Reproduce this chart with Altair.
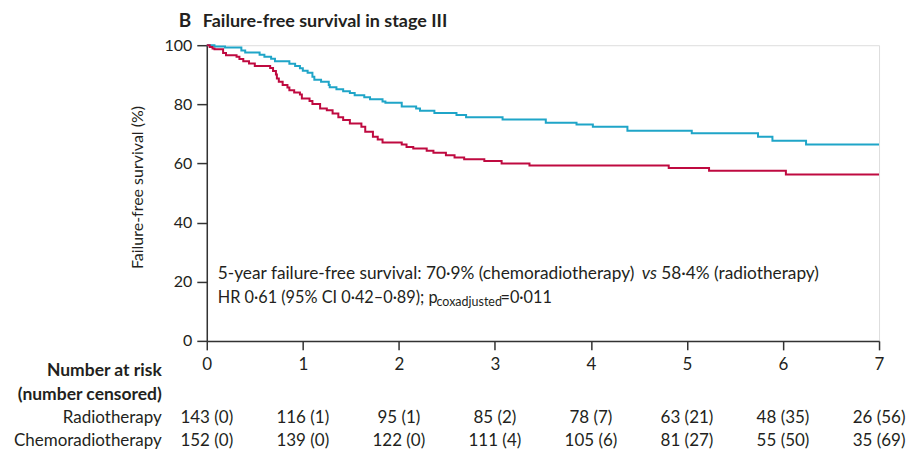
import altair as alt
import pandas as pd

# ---- data ----
chemo_t = [0, 0.08, 0.19, 0.36, 0.40, 0.55, 0.60, 0.67, 0.71, 0.86, 0.92, 0.97, 1.00, 1.05, 1.10, 1.12, 1.19, 1.27, 1.28, 1.35,
           1.42, 1.49, 1.54, 1.64, 1.70, 1.83, 1.86, 2.03, 2.18, 2.22, 2.37, 2.60, 2.70, 3.08, 3.53, 3.85, 4.02, 4.38, 5.05, 5.74,
           5.89, 6.24, 7.0]
chemo_s = [100, 99.6, 99.2, 98.2, 97.5, 96.8, 96.1, 95.4, 94.6, 93.7, 93.0, 92.2, 91.4, 90.7, 89.3, 88.3, 87.6, 86.5, 85.8, 85.1,
           84.4, 83.8, 83.1, 82.4, 81.7, 81.0, 80.5, 79.3, 78.6, 77.8, 77.1, 76.4, 75.6, 74.9, 73.8, 73.2, 72.4, 71.1, 70.2, 69.0,
           67.7, 66.4, 66.4]
radio_t = [0, 0.03, 0.06, 0.08, 0.17, 0.20, 0.31, 0.34, 0.38, 0.44, 0.50, 0.66, 0.69, 0.72, 0.73, 0.75, 0.79, 0.84, 0.86, 0.91,
           0.97, 0.99, 1.07, 1.10, 1.18, 1.25, 1.31, 1.37, 1.42, 1.49, 1.61, 1.65, 1.73, 1.78, 1.83, 2.03, 2.08, 2.15, 2.29, 2.36,
           2.49, 2.58, 2.68, 2.89, 3.07, 3.36, 4.81, 5.23, 6.03, 7.0]
radio_s = [100, 99.4, 98.9, 98.6, 97.4, 96.6, 96.1, 95.3, 94.6, 93.8, 93.0, 92.3, 91.3, 90.1, 88.7, 87.6, 86.5, 85.7, 84.8, 84.0,
           83.3, 82.0, 81.1, 80.1, 78.6, 78.0, 76.9, 75.6, 74.7, 73.5, 72.4, 70.7, 69.0, 68.1, 67.1, 66.4, 65.6, 65.1, 64.3, 63.6,
           62.8, 62.0, 61.4, 60.8, 60.0, 59.3, 58.5, 57.5, 56.3, 56.3]

risk_times = [0, 1, 2, 3, 4, 5, 6, 7]
risk_radio = ["143 (0)", "116 (1)", "95 (1)", "85 (2)", "78 (7)", "63 (21)", "48 (35)", "26 (56)"]
risk_chemo = ["152 (0)", "139 (0)", "122 (0)", "111 (4)", "105 (6)", "81 (27)", "55 (50)", "35 (69)"]

arms = ["Chemoradiotherapy", "Radiotherapy"]
arm_colors = ["#1fa5c8", "#bf0a40"]

y_ticks = [0, 20, 40, 60, 80, 100]
x_ticks = [0, 1, 2, 3, 4, 5, 6, 7]

FONT = "Lato"
TXT = "#231f20"
W, H = 673, 296

curves = pd.concat([
    pd.DataFrame({"t": chemo_t, "s": chemo_s, "arm": arms[0]}),
    pd.DataFrame({"t": radio_t, "s": radio_s, "arm": arms[1]}),
])

xs = alt.Scale(domain=[0, 7], nice=False, zero=False)
ys = alt.Scale(domain=[0, 100], nice=False)

lines = alt.Chart(curves).mark_line(interpolate="step-after", strokeWidth=2).encode(
    x=alt.X("t:Q", scale=xs, axis=alt.Axis(values=x_ticks, format="d", title=None, tickSize=9, labelPadding=7,
                                           labelFlush=False, labelFontSize=17, labelFont=FONT, labelColor=TXT, grid=False,
                                           domainColor="#333", tickColor="#333", domainWidth=1.5, tickWidth=1.5)),
    y=alt.Y("s:Q", scale=ys, axis=alt.Axis(values=y_ticks, title="Failure-free survival (%)", tickSize=10,
                                           labelPadding=5, labelFontSize=16, labelFont=FONT, labelColor=TXT,
                                           titleFont=FONT, titleFontSize=16, titleFontWeight="normal", titleColor=TXT,
                                           titleX=-69, titleY=142, titleAngle=-90, titleAlign="center",
                                           titleBaseline="middle", grid=False,
                                           domainColor="#333", tickColor="#333", domainWidth=1.5, tickWidth=1.5)),
    color=alt.Color("arm:N", scale=alt.Scale(domain=arms, range=arm_colors), legend=None),
    detail="arm:N",
)

def txt(text, x, y, size=17, weight="normal", align="left", style="normal", baseline="middle"):
    return alt.Chart(pd.DataFrame({"label": [text]})).mark_text(
        align=align, baseline=baseline, font=FONT, fontSize=size, fontWeight=weight, fontStyle=style, color=TXT
    ).encode(text="label:N", x=alt.value(x), y=alt.value(y))

title_b = txt("B", -28, -18.5, size=19, weight="bold", baseline="alphabetic")
title_t = txt("Failure-free survival in stage III", -4, -18.5, size=18, weight="bold", baseline="alphabetic")

ann1a = txt("5-year failure-free survival: 70·9% (chemoradiotherapy)", 11, 234, size=17.3, baseline="alphabetic")
ann1b = txt("vs", 443, 234, size=17.3, style="italic", align="center", baseline="alphabetic")
ann1c = txt("58·4% (radiotherapy)", 455, 234, size=17.3, baseline="alphabetic")
ann2a = txt("HR 0·61 (95% CI 0·42–0·89); p", 11, 258, size=16.3, baseline="alphabetic")
ann2b = txt("coxadjusted", 230, 261, size=12.5, baseline="alphabetic")
ann2c = txt("=0·011", 294, 258, size=16.3, baseline="alphabetic")

hdr1 = txt("Number at risk", -45, 326, size=17.5, weight="bold", align="right")
hdr2 = txt("(number censored)", -45, 350, size=17.5, weight="bold", align="right")
lab_r = txt("Radiotherapy", -45, 373, align="right")
lab_c = txt("Chemoradiotherapy", -45, 396, align="right")

risk_df_r = pd.DataFrame({"t": risk_times, "label": risk_radio})
risk_df_c = pd.DataFrame({"t": risk_times, "label": risk_chemo})
risk_r = alt.Chart(risk_df_r).mark_text(font=FONT, fontSize=17, color=TXT, baseline="middle", align="center").encode(
    x=alt.X("t:Q", scale=xs), y=alt.value(373), text="label:N")
risk_c = alt.Chart(risk_df_c).mark_text(font=FONT, fontSize=17, color=TXT, baseline="middle", align="center").encode(
    x=alt.X("t:Q", scale=xs), y=alt.value(396), text="label:N")

chart = alt.layer(
    lines, title_b, title_t, ann1a, ann1b, ann1c, ann2a, ann2b, ann2c,
    hdr1, hdr2, lab_r, lab_c, risk_r, risk_c
).properties(
    width=W, height=H,
    autosize=alt.AutoSizeParams(type="none"),
    padding={"left": 199, "top": 37, "right": 35, "bottom": 113},
).configure_view(stroke=None).configure(background="white")

chart.save("out.html", embed_options={"renderer": "svg", "actions": False})
